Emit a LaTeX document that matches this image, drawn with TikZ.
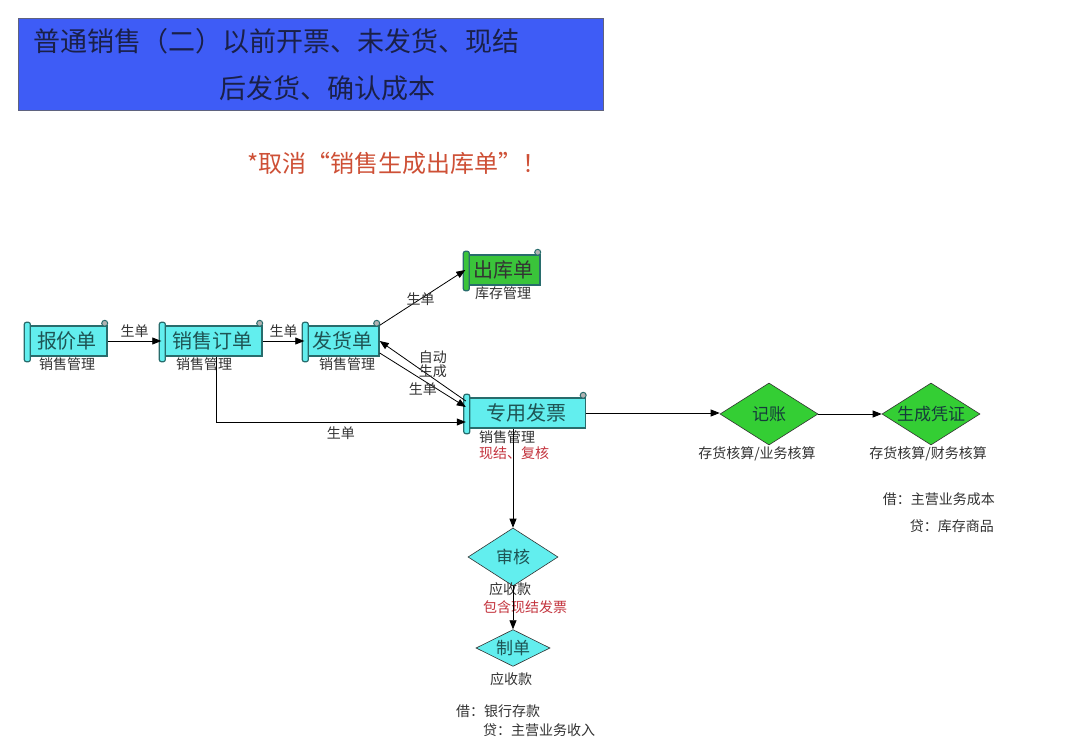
\documentclass[tikz,border=0pt]{standalone}
\usepackage{fontspec}
\setmainfont{Noto Sans CJK SC}
\usetikzlibrary{arrows.meta,positioning,shapes.geometric,calc}
\definecolor{titleblue}{RGB}{62,92,246}
\definecolor{titleink}{RGB}{26,32,72}
\definecolor{warnred}{RGB}{206,80,54}
\definecolor{scrollcyan}{RGB}{98,238,238}
\definecolor{scrollgreen}{RGB}{58,196,58}
\definecolor{diagreen}{RGB}{52,206,52}
\definecolor{edgeteal}{RGB}{40,108,108}
\definecolor{inkteal}{RGB}{30,84,84}
\definecolor{notered}{RGB}{196,52,62}
\definecolor{inkgray}{RGB}{50,50,50}
\newcommand{\fs}[1]{\fontsize{#1}{#1}\selectfont}
% rolled left edge and top curl of a scroll node
\newcommand{\scrollparts}[2]{%
  \draw[draw=edgeteal, line width=1.2pt, fill=#2, rounded corners=2pt]
    ([xshift=-2pt,yshift=3pt]#1.north west) rectangle ([xshift=4pt,yshift=-5pt]#1.south west);
  \draw[draw=edgeteal, line width=1pt, fill=gray!60]
    ([xshift=-3pt,yshift=2pt]#1.north east) circle (3pt);
}
\tikzset{
  scrollbox/.style={draw=edgeteal, line width=1.4pt, fill=scrollcyan, text=inkteal,
              font=\fs{20}, minimum height=30pt, inner xsep=10pt, inner ysep=2pt},
  checkbox/.style={diamond, aspect=1.6, draw=inkgray, line width=.6pt, fill=scrollcyan, text=inkteal,
              font=\fs{17}, inner sep=0pt},
  postbox/.style={checkbox, fill=diagreen, text=inkteal!70!black},
  sub/.style={font=\fs{14}, text=inkgray, inner sep=1pt},
  note/.style={font=\fs{14}, text=notered, inner sep=1pt},
  flow/.style={-{Triangle[length=9pt,width=7pt]}, line width=.8pt, black},
  tag/.style={font=\fs{14}, text=inkgray, inner sep=1pt},
}
\begin{document}
\begin{tikzpicture}[x=1pt, y=-1pt]
  \useasboundingbox[fill=white] (0,0) rectangle (1080,738);
  % heading
  \node[draw=titleink!70, line width=1pt, fill=titleblue, minimum width=585pt, minimum height=92pt,
        anchor=north west] (head) at (18,18) {};
  \node[font=\fs{27}, text=titleink, anchor=west] (headA) at (30,41) {普通销售（二）以前开票、未发货、现结};
  \node[font=\fs{27}, text=titleink, anchor=west] (headB) at (216,88) {后发货、确认成本};
  \node[font=\fs{24}, text=warnred] (warn) at (397,163) {*取消“销售生成出库单”！};

  % documents
  \node[scrollbox] (quote) at (67,341) {报价单};
  \node[scrollbox] (order) at (212,341) {销售订单};
  \node[scrollbox, inner xsep=7pt] (ship) at (342,341) {发货单};
  \node[scrollbox, fill=scrollgreen, text=black!80, inner xsep=7pt] (stock) at (503,270) {出库单};
  \node[scrollbox, minimum width=119pt] (invoice) at (526,413) {专用发票};
  \scrollparts{quote}{scrollcyan}
  \scrollparts{order}{scrollcyan}
  \scrollparts{ship}{scrollcyan}
  \scrollparts{stock}{scrollgreen}
  \scrollparts{invoice}{scrollcyan}

  \node[sub, below=0pt of quote] (quoteM) {销售管理};
  \node[sub, below=0pt of order, xshift=-8pt] (orderM) {销售管理};
  \node[sub, below=0pt of ship, xshift=5pt] (shipM) {销售管理};
  \node[sub, below=0pt of stock] (stockM) {库存管理};
  \node[sub, anchor=north west] (invoiceM) at (478,429) {销售管理};
  \node[note, below=1pt of invoiceM.south west, anchor=north west] (invoiceN) {现结、复核};

  % checks
  \node[postbox, minimum width=98pt, minimum height=62pt] (post) at (769,414) {记账};
  \node[postbox, minimum width=98pt, minimum height=62pt] (voucher) at (931,414) {生成凭证};
  \node[checkbox, minimum width=90pt, minimum height=58pt] (audit) at (513,557) {审核};
  \node[checkbox, minimum width=74pt, minimum height=36pt] (make) at (513,648) {制单};

  \node[sub] (postM) at (757,454) {存货核算/业务核算};
  \node[sub] (voucherM) at (928,454) {存货核算/财务核算};
  \node[sub, anchor=east] (debitA) at (996,499) {借：主营业务成本};
  \node[sub, anchor=east] (creditA) at (995,526) {贷：库存商品};
  \node[sub] (auditM) at (510,589) {应收款};
  \node[note] (auditN) at (525,607) {包含现结发票};
  \node[sub] (makeM) at (511,679) {应收款};
  \node[sub] (debitB) at (498,711) {借：银行存款};
  \node[sub, anchor=south west] (creditB) at (482,738) {贷：主营业务收入};

  % connectors
  \draw[flow] (quote) -- node[tag, above=2pt]{生单} (order);
  \draw[flow] (order) -- node[tag, above=2pt]{生单} (ship);
  \draw[flow] (ship.north east) -- node[tag, midway, yshift=-2pt, xshift=-2pt]{生单} (stock.west);
  \draw[flow] ([yshift=12pt]invoice.west) -- node[tag, midway, align=center, xshift=10pt, yshift=7pt]{自动\\生成} (ship.east);
  \draw[flow] ([yshift=-12pt]ship.east) -- node[tag, midway, yshift=-9pt]{生单} ([yshift=6pt]invoice.west);
  \draw[flow] ([xshift=4pt]order.south) |- node[tag, pos=.75, below=3pt]{生单} ([yshift=-9pt]invoice.west);
  \draw[flow] (invoice.east) -- (invoice.east -| post.west);
  \draw[flow] (post.east) -- (voucher.west);
  \draw[flow] (invoice.south -| audit.north) -- (audit.north);
  \draw[flow] (audit.south) -- (make.north);
\end{tikzpicture}
\end{document}
